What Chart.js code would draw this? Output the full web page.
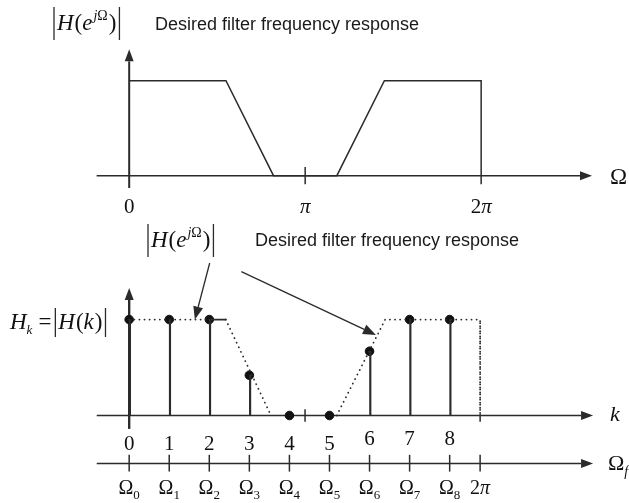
<!DOCTYPE html>
<html lang="en">
<head>
<meta charset="UTF-8">
<title>Desired filter frequency response</title>
<script src="https://cdn.jsdelivr.net/npm/chart.js"></script>
<style>
  html, body { margin: 0; padding: 0; background: #fff; }
  #wrap { width: 629px; height: 503px; }
</style>
</head>
<body>
<div id="wrap"><canvas id="chart"></canvas></div>
<script>
// top panel: continuous |H(e^jW)|, x in units of pi
const contOmega = [0, 0.55, 0.82, 1.18, 1.45, 2, 2];
const contMag = [1, 1, 0, 0, 1, 1, 0];
const topTickPos = [0, 1, 2];
const topTickLabels = ['0', 'π', '2π'];

// bottom panel: frequency samples, x in units of k
const kIdx = [0, 1, 2, 3, 4, 5, 6, 7, 8];
const Hk = [1, 1, 1, 0.42, 0, 0, 0.67, 1, 1];
const kLabels = ['0', '1', '2', '3', '4', '5', '6', '7', '8'];
const omegaSubs = ['0', '1', '2', '3', '4', '5', '6', '7', '8'];
const piK = 4.39, twoPiK = 8.76;
// desired response redrawn over the samples (dotted)
const desiredK = [0, 2, 2.41, 3.54, 5.18, 6.39, 8.76, 8.76];
const desiredH = [1, 1, 1, 0, 0, 1, 1, 0];

const INK = '#2b2b2b';
const SERIF = '"Liberation Serif", "DejaVu Serif", serif';
const SANS = '"Liberation Sans", Arial, sans-serif';

function font(size, italic) {
    return (italic ? 'italic ' : '') + size + 'px ' + SERIF;
}

function arrow(ctx, x0, y0, x1, y1, len, half) {
    len = len || 12; half = half || 4.5;
    const a = Math.atan2(y1 - y0, x1 - x0);
    const bx = x1 - len * Math.cos(a), by = y1 - len * Math.sin(a);
    ctx.beginPath();
    ctx.moveTo(x0, y0);
    ctx.lineTo(bx, by);
    ctx.stroke();
    ctx.beginPath();
    ctx.moveTo(x1, y1);
    ctx.lineTo(bx + half * Math.sin(a), by - half * Math.cos(a));
    ctx.lineTo(bx - half * Math.sin(a), by + half * Math.cos(a));
    ctx.closePath();
    ctx.fill();
}

function line(ctx, x0, y0, x1, y1) {
    ctx.beginPath();
    ctx.moveTo(x0, y0);
    ctx.lineTo(x1, y1);
    ctx.stroke();
}

// draws a run of text pieces left to right, returns end x
function runs(ctx, x, y, items) {
    items.forEach(it => {
        ctx.font = font(it.s, it.i);
        ctx.fillText(it.t, x, y + (it.dy || 0));
        x += ctx.measureText(it.t).width + (it.g || 0);
    });
    return x;
}

function runWidth(ctx, items) {
    let w = 0;
    items.forEach(it => {
        ctx.font = font(it.s, it.i);
        w += ctx.measureText(it.t).width + (it.g || 0);
    });
    return w;
}

// |H(e^{jW})| with tall bars
function magLabel(ctx, x, base) {
    ctx.lineWidth = 1.3;
    line(ctx, x, base - 23, x, base + 10);
    const end = runs(ctx, x + 3, base, [
        { t: 'H', s: 23, i: true, g: 1 },
        { t: '(', s: 23 },
        { t: 'e', s: 23, i: true, g: 1 },
        { t: 'j', s: 14, i: true, dy: -10 },
        { t: 'Ω', s: 14, dy: -10, g: 1 },
        { t: ')', s: 23 }
    ]);
    line(ctx, end + 3, base - 23, end + 3, base + 10);
}

const diagram = {
    id: 'diagram',
    beforeDatasetsDraw(chart) {
        const ctx = chart.ctx;
        const s = chart.scales;
        const X1 = v => s.x1.getPixelForValue(v), Y1 = v => s.y1.getPixelForValue(v);
        const X2 = v => s.x2.getPixelForValue(v), Y2 = v => s.y2.getPixelForValue(v);
        ctx.save();
        ctx.strokeStyle = INK;
        ctx.fillStyle = INK;
        ctx.lineWidth = 1.5;

        // top panel axes
        arrow(ctx, X1(-0.185), Y1(0), X1(2.63), Y1(0));
        ctx.lineWidth = 2;
        arrow(ctx, X1(0), Y1(-0.13), X1(0), Y1(1.33));
        ctx.lineWidth = 1.5;
        line(ctx, X1(1), Y1(-0.09), X1(1), Y1(0.09));
        line(ctx, X1(2), Y1(-0.09), X1(2), Y1(0));

        // bottom panel: k axis, vertical axis, omega axis
        arrow(ctx, X2(-0.81), Y2(0), X2(11.58), Y2(0));
        line(ctx, X2(piK), Y2(-0.065), X2(piK), Y2(0.065));
        line(ctx, X2(twoPiK), Y2(-0.065), X2(twoPiK), Y2(0));
        ctx.lineWidth = 2.4;
        arrow(ctx, X2(0), Y2(-0.14), X2(0), Y2(1.33));
        ctx.lineWidth = 1.5;
        arrow(ctx, X2(-0.81), Y2(-0.5), X2(11.58), Y2(-0.5));
        kIdx.concat([twoPiK]).forEach(k => line(ctx, X2(k), Y2(-0.41), X2(k), Y2(-0.585)));

        // pointers from the |H(e^jW)| label to the dotted curve
        ctx.lineWidth = 1.3;
        arrow(ctx, X2(2.01), Y2(1.59), X2(1.64), Y2(1.0), 13, 5);
        arrow(ctx, X2(2.80), Y2(1.50), X2(6.16), Y2(0.84), 13, 5);

        // text
        ctx.fillStyle = '#111';
        ctx.textBaseline = 'alphabetic';
        ctx.textAlign = 'left';
        magLabel(ctx, 54, 30);
        magLabel(ctx, 148, 247);
        ctx.fillStyle = '#1a1a1a';
        ctx.font = '18px ' + SANS;
        ctx.fillText('Desired filter frequency response', 155, 30);
        ctx.fillText('Desired filter frequency response', 255, 246);
        ctx.fillStyle = '#111';

        // H_k = |H(k)|
        let hx = runs(ctx, 10, 329, [
            { t: 'H', s: 23, i: true },
            { t: 'k', s: 13, i: true, dy: 5, g: 6 },
            { t: '=', s: 23, g: 4 }
        ]);
        ctx.lineWidth = 1.3;
        line(ctx, hx, 308, hx, 337);
        hx = runs(ctx, hx + 3, 329, [
            { t: 'H', s: 23, i: true, g: 1 },
            { t: '(', s: 23 },
            { t: 'k', s: 23, i: true, g: 1 },
            { t: ')', s: 23 }
        ]);
        line(ctx, hx + 3, 308, hx + 3, 337);

        // top tick labels
        topTickPos.forEach((p, i) => {
            const lab = topTickLabels[i];
            const items = lab === '0' ? [{ t: '0', s: 21 }]
                : lab === 'π' ? [{ t: 'π', s: 21, i: true }]
                : [{ t: '2', s: 21 }, { t: 'π', s: 21, i: true }];
            runs(ctx, X1(p) - runWidth(ctx, items) / 2, Y1(-0.32) + 7, items);
        });
        runs(ctx, 610, Y1(0) + 8, [{ t: 'Ω', s: 23 }]);

        // k labels
        kIdx.forEach((k, i) => {
            const items = [{ t: kLabels[i], s: 21 }];
            const yy = k >= 6 ? -0.235 : -0.286;
            runs(ctx, X2(k) - runWidth(ctx, items) / 2, Y2(yy) + 7, items);
        });
        runs(ctx, 610, Y2(0) + 6, [{ t: 'k', s: 22, i: true }]);

        // omega_k labels
        kIdx.forEach((k, i) => {
            const items = [{ t: 'Ω', s: 20 }, { t: omegaSubs[i], s: 13, dy: 5 }];
            runs(ctx, X2(k) - runWidth(ctx, items) / 2, 494, items);
        });
        const tp = [{ t: '2', s: 20 }, { t: 'π', s: 20, i: true }];
        runs(ctx, X2(twoPiK) - runWidth(ctx, tp) / 2, 494, tp);
        runs(ctx, 608, Y2(-0.5) + 7, [{ t: 'Ω', s: 22 }, { t: 'f', s: 14, i: true, dy: 6 }]);

        ctx.restore();
    }
};

new Chart(document.getElementById('chart'), {
    type: 'line',
    data: {
        datasets: [
            {
                label: 'Desired filter frequency response',
                data: contOmega.map((w, i) => ({ x: w, y: contMag[i] })),
                xAxisID: 'x1', yAxisID: 'y1',
                borderColor: INK, borderWidth: 1.5,
                pointRadius: 0, tension: 0
            },
            {
                label: 'Desired response (sampled view)',
                data: desiredK.map((k, i) => ({ x: k, y: desiredH[i] })),
                xAxisID: 'x2', yAxisID: 'y2',
                borderColor: INK, borderWidth: 1.8,
                borderCapStyle: 'round',
                pointRadius: 0, tension: 0,
                segment: {
                    borderDash: c => c.p0DataIndex === 1 ? [] : [0.1, 5],
                    borderColor: c => c.p0DataIndex === 3 ? 'rgba(0,0,0,0)' : INK
                }
            },
            {
                type: 'bar',
                label: 'H(k)',
                data: kIdx.map((k, i) => ({ x: k, y: Hk[i] })),
                xAxisID: 'x2', yAxisID: 'y2',
                backgroundColor: INK,
                barThickness: 1.5
            },
            {
                type: 'scatter',
                label: 'samples',
                data: kIdx.map((k, i) => ({ x: k, y: Hk[i] })),
                xAxisID: 'x2', yAxisID: 'y2',
                backgroundColor: '#111', borderColor: '#111',
                pointRadius: 4.3, showLine: false
            }
        ]
    },
    options: {
        responsive: true,
        maintainAspectRatio: false,
        animation: false,
        layout: { padding: 0 },
        plugins: { legend: { display: false }, tooltip: { enabled: false } },
        scales: {
            x1: { type: 'linear', display: false, min: -0.704, max: 2.810, offset: false },
            y1: { type: 'linear', display: false, min: -3.392, max: 1.794 },
            x2: { type: 'linear', display: false, min: -3.092, max: 12.344, offset: false },
            y2: { type: 'linear', display: false, min: -0.857, max: 4.276 }
        }
    },
    plugins: [diagram]
});
</script>
</body>
</html>
